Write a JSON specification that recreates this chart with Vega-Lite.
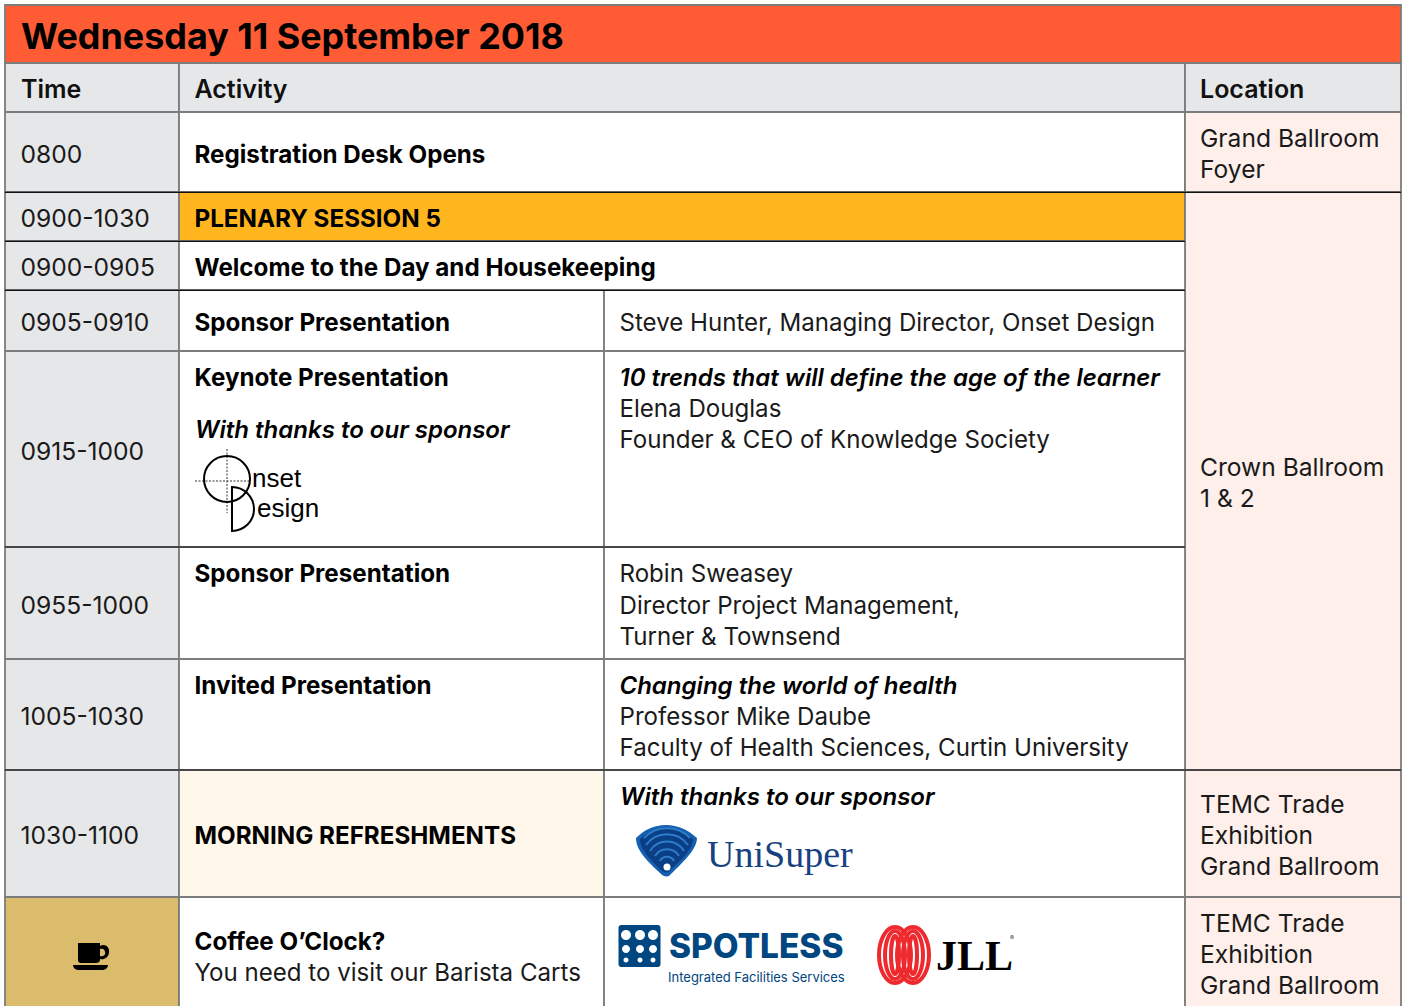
{"$schema":"https://vega.github.io/schema/vega-lite/v6.json","width":1402,"height":1006,"padding":0,"autosize":{"type":"fit","contains":"padding"},"background":"white","config":{"view":{"stroke":null}},
"datasets":{
"cells":[
{"x1":5,"x2":1401,"y1":5,"y2":63,"kind":"title"},
{"x1":5,"x2":179,"y1":63,"y2":112,"kind":"grey"},{"x1":179,"x2":1185,"y1":63,"y2":112,"kind":"grey"},{"x1":1185,"x2":1401,"y1":63,"y2":112,"kind":"grey"},
{"x1":5,"x2":179,"y1":112,"y2":192,"kind":"grey"},{"x1":179,"x2":1185,"y1":112,"y2":192,"kind":"white"},{"x1":1185,"x2":1401,"y1":112,"y2":192,"kind":"venue"},
{"x1":5,"x2":179,"y1":192,"y2":241,"kind":"grey"},{"x1":179,"x2":1185,"y1":192,"y2":241,"kind":"plenary"},{"x1":1185,"x2":1401,"y1":192,"y2":770,"kind":"venue"},
{"x1":5,"x2":179,"y1":241,"y2":290,"kind":"grey"},{"x1":179,"x2":1185,"y1":241,"y2":290,"kind":"white"},
{"x1":5,"x2":179,"y1":290,"y2":351,"kind":"grey"},{"x1":179,"x2":604,"y1":290,"y2":351,"kind":"white"},{"x1":604,"x2":1185,"y1":290,"y2":351,"kind":"white"},
{"x1":5,"x2":179,"y1":351,"y2":547,"kind":"grey"},{"x1":179,"x2":604,"y1":351,"y2":547,"kind":"white"},{"x1":604,"x2":1185,"y1":351,"y2":547,"kind":"white"},
{"x1":5,"x2":179,"y1":547,"y2":659,"kind":"grey"},{"x1":179,"x2":604,"y1":547,"y2":659,"kind":"white"},{"x1":604,"x2":1185,"y1":547,"y2":659,"kind":"white"},
{"x1":5,"x2":179,"y1":659,"y2":770,"kind":"grey"},{"x1":179,"x2":604,"y1":659,"y2":770,"kind":"white"},{"x1":604,"x2":1185,"y1":659,"y2":770,"kind":"white"},
{"x1":5,"x2":179,"y1":770,"y2":897,"kind":"grey"},{"x1":179,"x2":604,"y1":770,"y2":897,"kind":"morning"},{"x1":604,"x2":1185,"y1":770,"y2":897,"kind":"white"},{"x1":1185,"x2":1401,"y1":770,"y2":897,"kind":"venue"},
{"x1":5,"x2":179,"y1":897,"y2":1012,"kind":"coffee"},{"x1":179,"x2":604,"y1":897,"y2":1012,"kind":"white"},{"x1":604,"x2":1185,"y1":897,"y2":1012,"kind":"white"},{"x1":1185,"x2":1401,"y1":897,"y2":1012,"kind":"venue"}
],
"seams":[{"x1":5,"x2":1401,"y":192.3},{"x1":5,"x2":1185,"y":241.3},{"x1":5,"x2":1185,"y":290.3},{"x1":5,"x2":1185,"y":547},{"x1":5,"x2":1401,"y":770}],
"labels":[
{"label":"Wednesday 11 September 2018","x":21,"y":38,"kind":"title"},
{"label":"Time","x":21,"y":90,"kind":"header"},{"label":"Activity","x":194.5,"y":90,"kind":"header"},{"label":"Location","x":1200,"y":90,"kind":"header"},
{"label":"0800","x":20.5,"y":156,"kind":"time"},{"label":"0900-1030","x":20.5,"y":220,"kind":"time"},{"label":"0900-0905","x":20.5,"y":269,"kind":"time"},{"label":"0905-0910","x":20.5,"y":324,"kind":"time"},{"label":"0915-1000","x":20.5,"y":453,"kind":"time"},{"label":"0955-1000","x":20.5,"y":607,"kind":"time"},{"label":"1005-1030","x":20.5,"y":718,"kind":"time"},{"label":"1030-1100","x":20.5,"y":837,"kind":"time"},
{"label":"Registration Desk Opens","x":194.5,"y":156,"kind":"bold"},{"label":"PLENARY SESSION 5","x":194.5,"y":220,"kind":"bold"},{"label":"Welcome to the Day and Housekeeping","x":194.5,"y":269,"kind":"bold"},{"label":"Sponsor Presentation","x":194.5,"y":324,"kind":"bold"},{"label":"Keynote Presentation","x":194.5,"y":379,"kind":"bold"},{"label":"Sponsor Presentation","x":194.5,"y":575,"kind":"bold"},{"label":"Invited Presentation","x":194.5,"y":687,"kind":"bold"},{"label":"MORNING REFRESHMENTS","x":194.5,"y":837,"kind":"bold"},{"label":"Coffee O’Clock?","x":194.5,"y":943,"kind":"bold"},
{"label":"You need to visit our Barista Carts","x":194.5,"y":974,"kind":"body"},
{"label":"With thanks to our sponsor","x":195,"y":431,"kind":"italic"},{"label":"With thanks to our sponsor","x":620,"y":798,"kind":"italic"},
{"label":"10 trends that will define the age of the learner","x":619.5,"y":379,"kind":"italic"},{"label":"Changing the world of health","x":619.5,"y":687,"kind":"italic"},
{"label":"Steve Hunter, Managing Director, Onset Design","x":619.5,"y":324,"kind":"body"},{"label":"Elena Douglas","x":619.5,"y":410,"kind":"body"},{"label":"Founder & CEO of Knowledge Society","x":619.5,"y":441,"kind":"body"},
{"label":"Robin Sweasey","x":619.5,"y":575,"kind":"body"},{"label":"Director Project Management,","x":619.5,"y":607,"kind":"body"},{"label":"Turner & Townsend","x":619.5,"y":638,"kind":"body"},
{"label":"Professor Mike Daube","x":619.5,"y":718,"kind":"body"},{"label":"Faculty of Health Sciences, Curtin University","x":619.5,"y":749,"kind":"body"},
{"label":"Grand Ballroom","x":1200,"y":140,"kind":"time"},{"label":"Foyer","x":1200,"y":171,"kind":"time"},{"label":"Crown Ballroom","x":1200,"y":469,"kind":"time"},{"label":"1 & 2","x":1200,"y":500,"kind":"time"},
{"label":"TEMC Trade","x":1200,"y":806,"kind":"time"},{"label":"Exhibition","x":1200,"y":837,"kind":"time"},{"label":"Grand Ballroom","x":1200,"y":868,"kind":"time"},
{"label":"TEMC Trade","x":1200,"y":925,"kind":"time"},{"label":"Exhibition","x":1200,"y":956,"kind":"time"},{"label":"Grand Ballroom","x":1200,"y":987,"kind":"time"},
{"label":"nset","x":252,"y":479,"kind":"onset"},{"label":"esign","x":257,"y":509,"kind":"onset"},
{"label":"UniSuper","x":707,"y":856,"kind":"unisuper"},
{"label":"SPOTLESS","x":669,"y":948,"kind":"spotless"},
{"label":"Integrated Facilities Services","x":668,"y":978,"kind":"spotlessSub"},
{"label":"JLL","x":936,"y":957,"kind":"jll"},
{"label":"®","x":1010,"y":938,"kind":"reg"}
],
"guides":[{"x1":195,"x2":250,"y1":481,"y2":481},{"x1":227,"x2":227,"y1":449,"y2":513}],
"filled":[
{"part":"cup","x":91,"y":957},{"part":"shell","x":666,"y":850},{"part":"shellCore","x":666,"y":850},
{"part":"square","x":639.5,"y":946},
{"part":"dotL","x":626,"y":935},{"part":"dotL","x":640,"y":935},{"part":"dotL","x":653,"y":935},
{"part":"dotM","x":626,"y":949},{"part":"dotM","x":640,"y":949},{"part":"dotM","x":653,"y":949},
{"part":"dotS","x":626,"y":960},{"part":"dotS","x":640,"y":960},{"part":"dotS","x":653,"y":960}
],
"thin":[{"part":"arcs","x":666,"y":850},{"part":"onsetO","x":227,"y":479},{"part":"onsetD","x":232,"y":509}],
"rings":[
{"part":"ringA","x":895,"y":955},{"part":"ringB","x":895,"y":955},{"part":"ringC","x":895,"y":955},
{"part":"ringA","x":913,"y":955},{"part":"ringB","x":913,"y":955},{"part":"ringC","x":913,"y":955}
],
"pearl":[{"part":"pearl","x":667,"y":867}]},
"layer":[
{"data":{"name":"cells"},"mark":{"type":"rect","stroke":"#7c7c7c","strokeWidth":1.8,"clip":true},"encoding":{"x":{"field":"x1","type":"quantitative","axis":null,"scale":{"domain":[0,1402],"nice":false,"zero":false}},"x2":{"field":"x2"},"y":{"field":"y1","type":"quantitative","axis":null,"scale":{"domain":[0,1006],"reverse":true,"nice":false,"zero":false}},"y2":{"field":"y2"},"color":{"field":"kind","type":"nominal","legend":null,"scale":{"domain":["title","grey","white","venue","plenary","morning","coffee"],"range":["#FF5C35","#E6E7E9","#FFFFFF","#FEEFEB","#FFB51E","#FFF7E9","#DBBB6C"]}}}},
{"data":{"name":"seams"},"mark":{"type":"rule","stroke":"#111111","strokeWidth":1.2},"encoding":{"x":{"field":"x1","type":"quantitative","axis":null,"scale":{"domain":[0,1402],"nice":false,"zero":false}},"x2":{"field":"x2"},"y":{"field":"y","type":"quantitative","axis":null,"scale":{"domain":[0,1006],"reverse":true,"nice":false,"zero":false}}}},
{"data":{"name":"guides"},"mark":{"type":"rule","stroke":"#333","strokeWidth":1,"strokeDash":[2,1.5]},"encoding":{"x":{"field":"x1","type":"quantitative","axis":null,"scale":{"domain":[0,1402],"nice":false,"zero":false}},"x2":{"field":"x2"},"y":{"field":"y1","type":"quantitative","axis":null,"scale":{"domain":[0,1006],"reverse":true,"nice":false,"zero":false}},"y2":{"field":"y2"}}},
{"data":{"name":"filled"},"mark":{"type":"point","filled":true,"size":4,"opacity":1},"encoding":{"x":{"field":"x","type":"quantitative","axis":null,"scale":{"domain":[0,1402],"nice":false,"zero":false}},"y":{"field":"y","type":"quantitative","axis":null,"scale":{"domain":[0,1006],"reverse":true,"nice":false,"zero":false}},
"shape":{"field":"part","type":"nominal","legend":null,"scale":{"domain":["cup","shell","shellCore","square","dotL","dotM","dotS"],"range":[
"M-13,-14 H9 V-11 C14,-14 19,-10 18,-4 C17,1 13,3 9,2 V3 C9,5 7,6 5,6 H-10 C-12,6 -13,5 -13,3 Z M9,-8 V-1 C13,0 15,-3 14,-5 C14,-8 11,-9 9,-8 Z M-18,8 H17 C17,11 14,13 11,13 H-12 C-15,13 -18,11 -18,8 Z",
"M-30,-12 C-22,-20 -12,-25 0,-25 C12,-25 22,-20 31,-12 C31,0 15,14 3,26 C0,27 -3,26 -5,24 C-15,14 -30,2 -30,-12 Z",
"M-26,-11 C-20,-17 -10,-22 0,-22 C10,-22 20,-17 27,-11 C27,0 13,12 2,22 C0,23 -2,22 -4,21 C-13,12 -26,1 -26,-11 Z",
"M-18,-21 H18 C20,-21 21,-20 21,-18 V18 C21,20 20,21 18,21 H-18 C-20,21 -21,20 -21,18 V-18 C-21,-20 -20,-21 -18,-21 Z",
"M-5,0 A5,5 0 1 1 5,0 A5,5 0 1 1 -5,0 Z","M-4,0 A4,4 0 1 1 4,0 A4,4 0 1 1 -4,0 Z","M-2.5,0 A2.5,2.5 0 1 1 2.5,0 A2.5,2.5 0 1 1 -2.5,0 Z"]}},
"color":{"field":"part","type":"nominal","legend":null,"scale":{"domain":["cup","shell","shellCore","square","dotL","dotM","dotS"],"range":["#000000","#1560B0","#0A3F86","#004680","#FFFFFF","#FFFFFF","#FFFFFF"]}}}},
{"data":{"name":"thin"},"mark":{"type":"point","filled":false,"size":4,"opacity":1,"strokeWidth":2},"encoding":{"x":{"field":"x","type":"quantitative","axis":null,"scale":{"domain":[0,1402],"nice":false,"zero":false}},"y":{"field":"y","type":"quantitative","axis":null,"scale":{"domain":[0,1006],"reverse":true,"nice":false,"zero":false}},
"shape":{"field":"part","type":"nominal","legend":null,"scale":{"domain":["arcs","onsetO","onsetD"],"range":[
"M-6,11 A8,8 0 0 1 8,11 M-11,6 A14,14 0 0 1 13,6 M-16,1 A20,20 0 0 1 18,1 M-20,-5 A26,26 0 0 1 22,-5 M-22,-12 A32,32 0 0 1 24,-12",
"M-23,0 A23,23 0 1 1 23,0 A23,23 0 1 1 -23,0 Z",
"M0,-22 A22,22 0 0 1 0,22 Z"]}},
"color":{"field":"part","type":"nominal","legend":null,"scale":{"domain":["arcs","onsetO","onsetD"],"range":["#2F7CC8","#000000","#000000"]}}}},
{"data":{"name":"pearl"},"mark":{"type":"point","filled":true,"shape":"circle","size":50,"opacity":1,"color":"#FFFFFF"},"encoding":{"x":{"field":"x","type":"quantitative","axis":null,"scale":{"domain":[0,1402],"nice":false,"zero":false}},"y":{"field":"y","type":"quantitative","axis":null,"scale":{"domain":[0,1006],"reverse":true,"nice":false,"zero":false}}}},
{"data":{"name":"rings"},"mark":{"type":"point","filled":false,"size":4,"opacity":1,"strokeWidth":4},"encoding":{"x":{"field":"x","type":"quantitative","axis":null,"scale":{"domain":[0,1402],"nice":false,"zero":false}},"y":{"field":"y","type":"quantitative","axis":null,"scale":{"domain":[0,1006],"reverse":true,"nice":false,"zero":false}},
"shape":{"field":"part","type":"nominal","legend":null,"scale":{"domain":["ringA","ringB","ringC"],"range":[
"M-16,0 A16,28 0 1 1 16,0 A16,28 0 1 1 -16,0 Z",
"M-10,0 A10,24 0 1 1 10,0 A10,24 0 1 1 -10,0 Z",
"M-4,0 A4,19 0 1 1 4,0 A4,19 0 1 1 -4,0 Z"]}},
"color":{"value":"#EE2A2E"}}},
{"data":{"name":"labels"},"transform":[{"filter":"datum.kind=='title'"}],"mark":{"type":"text","align":"left","baseline":"middle","font":"Inter","fontWeight":700,"fontSize":35.9,"color":"#000"},"encoding":{"x":{"field":"x","type":"quantitative","axis":null,"scale":{"domain":[0,1402],"nice":false,"zero":false}},"y":{"field":"y","type":"quantitative","axis":null,"scale":{"domain":[0,1006],"reverse":true,"nice":false,"zero":false}},"text":{"field":"label"}}},
{"data":{"name":"labels"},"transform":[{"filter":"datum.kind=='header'"}],"mark":{"type":"text","align":"left","baseline":"middle","font":"Inter","fontWeight":600,"fontSize":25,"color":"#111"},"encoding":{"x":{"field":"x","type":"quantitative","axis":null,"scale":{"domain":[0,1402],"nice":false,"zero":false}},"y":{"field":"y","type":"quantitative","axis":null,"scale":{"domain":[0,1006],"reverse":true,"nice":false,"zero":false}},"text":{"field":"label"}}},
{"data":{"name":"labels"},"transform":[{"filter":"datum.kind=='body'"}],"mark":{"type":"text","align":"left","baseline":"middle","font":"Inter","fontWeight":400,"fontSize":24.1,"color":"#1a1a1a"},"encoding":{"x":{"field":"x","type":"quantitative","axis":null,"scale":{"domain":[0,1402],"nice":false,"zero":false}},"y":{"field":"y","type":"quantitative","axis":null,"scale":{"domain":[0,1006],"reverse":true,"nice":false,"zero":false}},"text":{"field":"label"}}},
{"data":{"name":"labels"},"transform":[{"filter":"datum.kind=='time'"}],"mark":{"type":"text","align":"left","baseline":"middle","font":"Inter","fontWeight":400,"fontSize":24.6,"color":"#1a1a1a"},"encoding":{"x":{"field":"x","type":"quantitative","axis":null,"scale":{"domain":[0,1402],"nice":false,"zero":false}},"y":{"field":"y","type":"quantitative","axis":null,"scale":{"domain":[0,1006],"reverse":true,"nice":false,"zero":false}},"text":{"field":"label"}}},
{"data":{"name":"labels"},"transform":[{"filter":"datum.kind=='bold'"}],"mark":{"type":"text","align":"left","baseline":"middle","font":"Inter","fontWeight":700,"fontSize":24.2,"color":"#000"},"encoding":{"x":{"field":"x","type":"quantitative","axis":null,"scale":{"domain":[0,1402],"nice":false,"zero":false}},"y":{"field":"y","type":"quantitative","axis":null,"scale":{"domain":[0,1006],"reverse":true,"nice":false,"zero":false}},"text":{"field":"label"}}},
{"data":{"name":"labels"},"transform":[{"filter":"datum.kind=='italic'"}],"mark":{"type":"text","align":"left","baseline":"middle","font":"Inter","fontWeight":600,"fontStyle":"italic","fontSize":24,"color":"#000"},"encoding":{"x":{"field":"x","type":"quantitative","axis":null,"scale":{"domain":[0,1402],"nice":false,"zero":false}},"y":{"field":"y","type":"quantitative","axis":null,"scale":{"domain":[0,1006],"reverse":true,"nice":false,"zero":false}},"text":{"field":"label"}}},
{"data":{"name":"labels"},"transform":[{"filter":"datum.kind=='onset'"}],"mark":{"type":"text","align":"left","baseline":"middle","font":"Liberation Sans","fontSize":26,"color":"#000"},"encoding":{"x":{"field":"x","type":"quantitative","axis":null,"scale":{"domain":[0,1402],"nice":false,"zero":false}},"y":{"field":"y","type":"quantitative","axis":null,"scale":{"domain":[0,1006],"reverse":true,"nice":false,"zero":false}},"text":{"field":"label"}}},
{"data":{"name":"labels"},"transform":[{"filter":"datum.kind=='unisuper'"}],"mark":{"type":"text","align":"left","baseline":"middle","font":"Liberation Serif","fontSize":38,"color":"#17427F"},"encoding":{"x":{"field":"x","type":"quantitative","axis":null,"scale":{"domain":[0,1402],"nice":false,"zero":false}},"y":{"field":"y","type":"quantitative","axis":null,"scale":{"domain":[0,1006],"reverse":true,"nice":false,"zero":false}},"text":{"field":"label"}}},
{"data":{"name":"labels"},"transform":[{"filter":"datum.kind=='spotless'"}],"mark":{"type":"text","align":"left","baseline":"middle","font":"Inter","fontWeight":800,"fontSize":33.4,"color":"#004680"},"encoding":{"x":{"field":"x","type":"quantitative","axis":null,"scale":{"domain":[0,1402],"nice":false,"zero":false}},"y":{"field":"y","type":"quantitative","axis":null,"scale":{"domain":[0,1006],"reverse":true,"nice":false,"zero":false}},"text":{"field":"label"}}},
{"data":{"name":"labels"},"transform":[{"filter":"datum.kind=='spotlessSub'"}],"mark":{"type":"text","align":"left","baseline":"middle","font":"Inter","fontSize":13,"color":"#004680"},"encoding":{"x":{"field":"x","type":"quantitative","axis":null,"scale":{"domain":[0,1402],"nice":false,"zero":false}},"y":{"field":"y","type":"quantitative","axis":null,"scale":{"domain":[0,1006],"reverse":true,"nice":false,"zero":false}},"text":{"field":"label"}}},
{"data":{"name":"labels"},"transform":[{"filter":"datum.kind=='jll'"}],"mark":{"type":"text","align":"left","baseline":"middle","font":"Liberation Serif","fontWeight":700,"fontSize":42,"color":"#000"},"encoding":{"x":{"field":"x","type":"quantitative","axis":null,"scale":{"domain":[0,1402],"nice":false,"zero":false}},"y":{"field":"y","type":"quantitative","axis":null,"scale":{"domain":[0,1006],"reverse":true,"nice":false,"zero":false}},"text":{"field":"label"}}},
{"data":{"name":"labels"},"transform":[{"filter":"datum.kind=='reg'"}],"mark":{"type":"text","align":"left","baseline":"middle","font":"Inter","fontSize":6,"color":"#444"},"encoding":{"x":{"field":"x","type":"quantitative","axis":null,"scale":{"domain":[0,1402],"nice":false,"zero":false}},"y":{"field":"y","type":"quantitative","axis":null,"scale":{"domain":[0,1006],"reverse":true,"nice":false,"zero":false}},"text":{"field":"label"}}}
],
"resolve":{"scale":{"color":"independent","shape":"independent"}}}
